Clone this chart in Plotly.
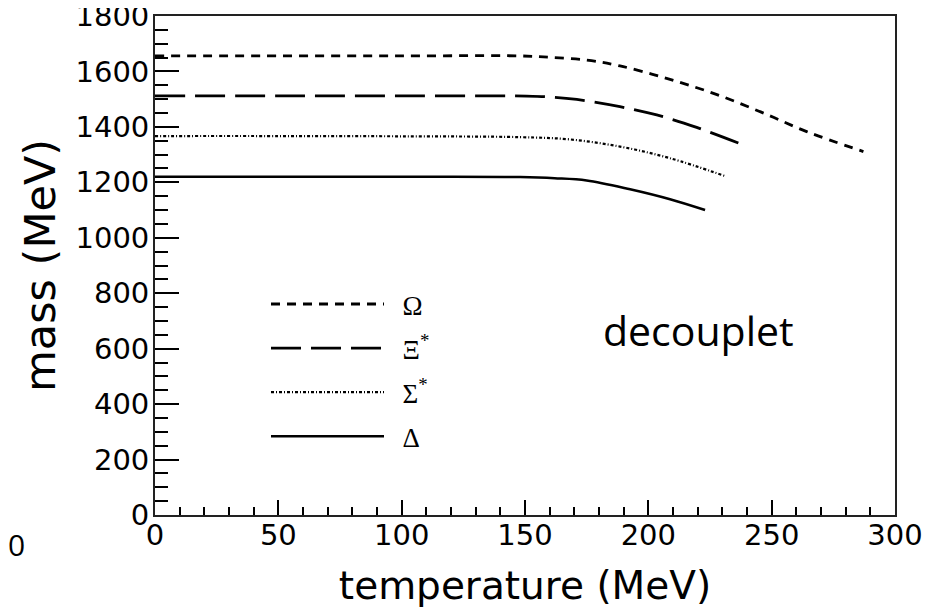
import plotly.graph_objects as go

# Data (temperature in MeV, mass in MeV)
omega_T = [0, 50, 100, 148, 160, 175, 188.5, 207.4, 226.4, 245.3, 264.2, 287.2]
omega_m = [1656, 1656, 1656, 1656, 1651, 1641, 1620, 1575, 1521, 1455, 1383, 1311]

xi_T = [0, 50, 100, 150.7, 160, 171, 188.5, 203.4, 219.6, 238.5]
xi_m = [1512, 1512, 1512, 1511, 1508, 1499, 1473, 1443, 1398, 1335]

sigma_T = [0, 50, 100, 148, 168, 188.5, 208.8, 231]
sigma_m = [1367, 1367, 1366, 1363, 1355, 1329, 1287, 1223]

delta_T = [0, 50, 100, 148, 162, 175, 192.6, 208.8, 223]
delta_m = [1220, 1220, 1220, 1219, 1215, 1207, 1175, 1139, 1100]

names = ["\u2002Ω", "\u2002Ξ<sup>*</sup>", "\u2002Σ<sup>*</sup>", "\u2002Δ"]

y_ticks = [0, 200, 400, 600, 800, 1000, 1200, 1400, 1600, 1800]
x_ticks = [0, 50, 100, 150, 200, 250, 300]

fig = go.Figure()
fig.add_trace(go.Scatter(x=omega_T, y=omega_m, mode="lines", name=names[0], legendgroup="a",
                         line=dict(color="black", width=2.8, dash="9px,7px", shape="spline")))
fig.add_trace(go.Scatter(x=xi_T, y=xi_m, mode="lines", name=names[1], legendgroup="b",
                         line=dict(color="black", width=2.8, dash="30px,10px", shape="spline")))
fig.add_trace(go.Scatter(x=sigma_T, y=sigma_m, mode="lines", name=names[2], legendgroup="c",
                         line=dict(color="black", width=2.2, dash="3px,2px,1px,2px", shape="spline")))
fig.add_trace(go.Scatter(x=delta_T, y=delta_m, mode="lines", name=names[3], legendgroup="d",
                         line=dict(color="black", width=2.5, shape="spline")))

tickfont = dict(family="DejaVu Sans", size=29, color="black")

fig.update_layout(
    width=932, height=604,
    margin=dict(l=147, r=45, t=8, b=97, autoexpand=False),
    paper_bgcolor="white", plot_bgcolor="white",
    showlegend=True,
    legend=dict(x=0.150, y=0.471, xanchor="left", yanchor="top",
                font=dict(family="Liberation Serif", size=27, color="black"),
                bgcolor="rgba(0,0,0,0)", itemwidth=113, tracegroupgap=6,
                traceorder="grouped"),
    xaxis=dict(range=[0, 300], showgrid=False, zeroline=False, automargin=False,
               showline=True, linecolor="#222222", linewidth=1.8, mirror=True,
               ticks="inside", ticklen=15, tickwidth=1.5, tickcolor="black",
               tickmode="array", tickvals=x_ticks, ticktext=[str(v) for v in x_ticks],
               tickfont=tickfont, ticklabeloverflow="allow", ticklabelstandoff=-7,
               minor=dict(ticks="inside", ticklen=8, dtick=10, tickwidth=1.5, tickcolor="black"),
               title=dict(text="temperature (MeV)", font=dict(family="DejaVu Sans", size=39, color="black"),
                          standoff=21)),
    yaxis=dict(range=[0, 1800], showgrid=False, zeroline=False, automargin=False,
               showline=True, linecolor="#222222", linewidth=1.8, mirror=True,
               ticks="inside", ticklen=24, tickwidth=1.5, tickcolor="black",
               tickmode="array", tickvals=y_ticks, ticktext=[str(v) for v in y_ticks],
               tickfont=tickfont, ticklabeloverflow="allow", ticklabelstandoff=-2,
               minor=dict(ticks="inside", ticklen=13, dtick=50, tickwidth=1.5, tickcolor="black"),
               title=dict(text="mass (MeV)", font=dict(family="DejaVu Sans", size=43, color="black"),
                          standoff=6)),
    annotations=[
        dict(text="decouplet", xref="paper", yref="paper", x=0.603, y=0.371,
             xanchor="left", yanchor="middle", showarrow=False,
             font=dict(family="Open Sans", size=41, color="black")),
        dict(text="0", xref="paper", yref="paper", x=-0.1865, y=-0.06,
             xanchor="center", yanchor="middle", showarrow=False,
             font=dict(family="Open Sans", size=30, color="black")),
    ],
)

fig.write_html("out.html")
